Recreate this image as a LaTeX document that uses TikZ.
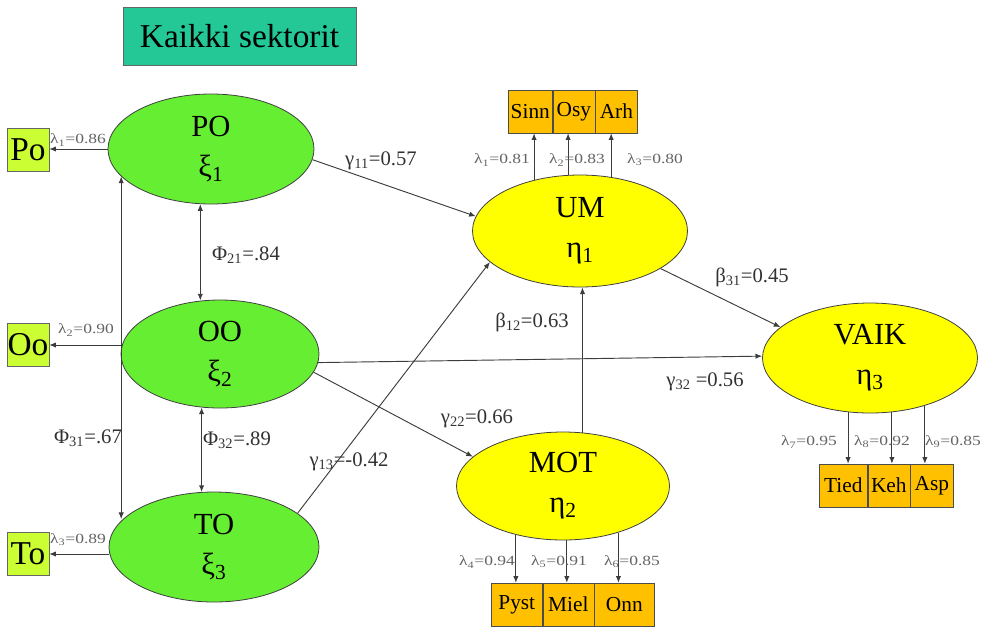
\documentclass[tikz,border=0pt]{standalone}
\usepackage{fontspec}
\setmainfont{Liberation Serif}
\usepackage{graphicx}
\usetikzlibrary{shapes.geometric,arrows.meta}

\definecolor{exogreen}{RGB}{102,238,51}
\definecolor{endoyellow}{RGB}{255,255,0}
\definecolor{limebox}{RGB}{204,255,51}
\definecolor{ambox}{RGB}{255,192,0}
\definecolor{titleteal}{RGB}{35,200,150}
\definecolor{linegray}{RGB}{60,60,60}
\definecolor{coefgray}{RGB}{50,50,50}
\definecolor{loadgray}{RGB}{100,100,100}

% loading labels are set a little wide
\newcommand\ldtxt[1]{\scalebox{1.25}[1]{#1}}

\begin{document}
\begin{tikzpicture}[x=0.75pt,y=-0.75pt,
  latent/.style={ellipse, draw=black!75, line width=0.6pt, inner sep=0pt,
    align=center, font=\fontsize{23}{30}\selectfont},
  exo/.style={latent, fill=exogreen},
  endo/.style={latent, fill=endoyellow},
  obsL/.style={rectangle, draw=black!60, fill=limebox, inner sep=0pt,
    minimum width=31.5pt, minimum height=32.25pt, font=\fontsize{25}{25}\selectfont},
  obsR/.style={rectangle, draw=black!70, fill=ambox, inner sep=0pt,
    minimum height=32.25pt, font=\fontsize{16}{16}\selectfont, anchor=west},
  effect/.style={draw=linegray, line width=0.7pt, -{Latex[length=5pt,width=4pt]}},
  cov/.style={effect, {Latex[length=5pt,width=4pt]}-{Latex[length=5pt,width=4pt]}},
  coef/.style={text=coefgray, font=\fontsize{15.5}{15.5}\selectfont, inner sep=0pt},
  loading/.style={text=loadgray, font=\fontsize{10.5}{10.5}\selectfont, inner sep=0pt},
]
\useasboundingbox (0,0) rectangle (987,626);

% title
\node[rectangle, draw=black!60, fill=titleteal, minimum width=174.75pt,
  minimum height=43.5pt, font=\fontsize{25}{25}\selectfont] (title) at (239.5,36) {Kaikki sektorit};

% latent variables
\node[exo, minimum width=154.5pt, minimum height=82.5pt] (PO) at (211,149) {PO\\ξ\textsubscript{1}};
\node[exo, minimum width=148.5pt, minimum height=81pt] (OO) at (220,354) {OO\\ξ\textsubscript{2}};
\node[exo, minimum width=157.5pt, minimum height=82.5pt] (TO) at (214,547) {TO\\ξ\textsubscript{3}};
\node[endo, minimum width=161.25pt, minimum height=84pt] (UM) at (580,231) {UM\\η\textsubscript{1}};
\node[endo, minimum width=159.75pt, minimum height=81pt] (MOT) at (563,486) {MOT\\η\textsubscript{2}};
\node[endo, minimum width=161.25pt, minimum height=82.5pt] (VAIK) at (870,358) {VAIK\\η\textsubscript{3}};

% indicators of the exogenous factors
\node[obsL] (Po) at (28,150) {Po};
\node[obsL] (Oo) at (28,345) {Oo};
\node[obsL] (To) at (28,554) {To};

% indicators of UM
\node[obsR, minimum width=33pt] (Sinn) at (508,111.5) {Sinn};
\node[obsR, minimum width=31.5pt] (Osy) at (Sinn.east) {Osy};
\node[obsR, minimum width=31.5pt] (Arh) at (Osy.east) {Arh};

% indicators of MOT
\node[obsR, minimum width=38.25pt] (Pyst) at (491,604.5) {Pyst};
\node[obsR, minimum width=38.25pt] (Miel) at (Pyst.east) {Miel};
\node[obsR, minimum width=45pt] (Onn) at (Miel.east) {Onn};

% indicators of VAIK
\node[obsR, minimum width=36pt] (Tied) at (819,485.5) {Tied};
\node[obsR, minimum width=31.5pt] (Keh) at (Tied.east) {Keh};
\node[obsR, minimum width=32.25pt] (Asp) at (Keh.east) {Asp};

% measurement arrows, left side
\draw[effect] (PO.west) -- (PO.west -| Po.east);
\draw[effect] (Oo.east -| OO.west) -- (Oo.east);
\draw[effect] (To.east -| TO.west) -- (To.east);

% factor covariances
\draw[cov] (PO.197.5) -- (PO.197.5 |- TO.163.9);
\draw[cov] (PO.259.6) -- (PO.259.6 |- OO.108.7);
\draw[cov] (OO.251.3) -- (OO.251.3 |- TO.102.4);

% structural paths
\draw[effect] (PO.354.9) -- (UM.172.3);
\draw[effect] (OO.355.6) -- (VAIK.179);
\draw[effect] (OO.349.2) -- (MOT.162.9);
\draw[effect] (TO.22.6) -- (UM.199.6);
\draw[effect] (MOT.70.3) -- (MOT.70.3 |- UM.south);
\draw[effect] (UM.335.7) -- (VAIK.161.4);

% measurement arrows, endogenous factors
\draw[effect] (UM.132.3) -- (UM.132.3 |- Sinn.south);
\draw[effect] (UM.102.2) -- (UM.102.2 |- Osy.south);
\draw[effect] (UM.60) -- (UM.60 |- Arh.south);
\draw[effect] (MOT.226.6) -- (MOT.226.6 |- Pyst.north);
\draw[effect] (MOT.274.2) -- (MOT.274.2 |- Miel.north);
\draw[effect] (MOT.320.7) -- (MOT.320.7 |- Onn.north);
\draw[effect] (VAIK.248.7) -- (VAIK.248.7 |- Tied.north);
\draw[effect] (VAIK.292.2) -- (VAIK.292.2 |- Keh.north);
\draw[effect] (VAIK.319.3) -- (VAIK.319.3 |- Asp.north);

% loadings
\node[loading] (l1) at (78,140) {\ldtxt{λ\textsubscript{1}=0.86}};
\node[loading] (l2) at (86,330) {\ldtxt{λ\textsubscript{2}=0.90}};
\node[loading] (l3) at (78,540) {\ldtxt{λ\textsubscript{3}=0.89}};
\node[loading] (u1) at (502,160) {\ldtxt{λ\textsubscript{1}=0.81}};
\node[loading] (u2) at (577,160) {\ldtxt{λ\textsubscript{2}=0.83}};
\node[loading] (u3) at (655,160) {\ldtxt{λ\textsubscript{3}=0.80}};
\node[loading] (m4) at (487,562) {\ldtxt{λ\textsubscript{4}=0.94}};
\node[loading] (m5) at (559,562) {\ldtxt{λ\textsubscript{5}=0.91}};
\node[loading] (m6) at (632,562) {\ldtxt{λ\textsubscript{6}=0.85}};
\node[loading] (v7) at (809,442) {\ldtxt{λ\textsubscript{7}=0.95}};
\node[loading] (v8) at (882,442) {\ldtxt{λ\textsubscript{8}=0.92}};
\node[loading] (v9) at (953,442) {\ldtxt{λ\textsubscript{9}=0.85}};

% path coefficients and covariances
\node[coef] (c21) at (246,255) {Φ\textsubscript{21}=.84};
\node[coef] (c31) at (88,438) {Φ\textsubscript{31}=.67};
\node[coef] (c32) at (237,440) {Φ\textsubscript{32}=.89};
\node[coef] (g11) at (381,161) {γ\textsubscript{11}=0.57};
\node[coef] (g13) at (349,462) {γ\textsubscript{13}=-0.42};
\node[coef] (g22) at (477,419) {γ\textsubscript{22}=0.66};
\node[coef] (g32) at (705,382) {γ\textsubscript{32} =0.56};
\node[coef] (b12) at (532,322) {β\textsubscript{12}=0.63};
\node[coef] (b31) at (752,277) {β\textsubscript{31}=0.45};
\end{tikzpicture}
\end{document}
